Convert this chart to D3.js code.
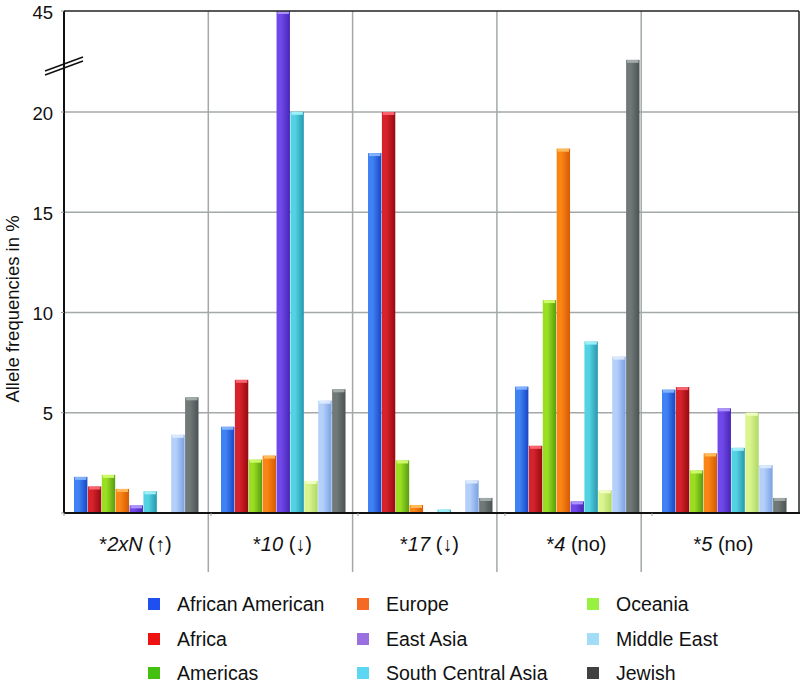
<!DOCTYPE html>
<html><head><meta charset="utf-8">
<script src="https://cdn.jsdelivr.net/npm/d3@7"></script>
<style>body{margin:0;background:#fff}svg{display:block;font-family:"Liberation Sans",Arial,sans-serif}</style>
</head><body><svg id="c" width="806" height="686"></svg>
<script>
const categories = ["2xN", "10", "17", "4", "5"];
const categorySuffix = ["(\u2191)", "(\u2193)", "(\u2193)", "(no)", "(no)"];
const series = ["African American", "Africa", "Americas", "Europe", "East Asia", "South Central Asia", "Oceania", "Middle East", "Jewish"];
const africanAmerican = [1.8, 4.3, 17.95, 6.3, 6.15];
const africa = [1.32, 6.64, 20.0, 3.35, 6.28];
const americas = [1.9, 2.66, 2.62, 10.62, 2.12];
const europe = [1.2, 2.86, 0.4, 18.17, 2.97];
const eastAsia = [0.38, 45, 0.05, 0.58, 5.22];
const southCentralAsia = [1.08, 20.05, 0.17, 8.55, 3.25];
const oceania = [0, 1.6, 0.05, 1.13, 5.0];
const middleEast = [3.9, 5.6, 1.62, 7.8, 2.38];
const jewish = [5.77, 6.17, 0.75, 32.9, 0.75];
const yTicks = [5, 10, 15, 20, 45];
const legendOrder = [["African American","Africa","Americas"],["Europe","East Asia","South Central Asia"],["Oceania","Middle East","Jewish"]];

const values = [africanAmerican, africa, americas, europe, eastAsia, southCentralAsia, oceania, middleEast, jewish];
const legendColors = ["#1f4ff0","#ee1111","#44c010","#f46a24","#9a70e0","#5cd6f2","#98f040","#a2dcf6","#414141"];
const barLight = ["#3f82f4","#d6222a","#9ade22","#fa8414","#7048ea","#52d2e2","#daf48e","#b4d0fa","#707878"];
const barDark  = ["#1a46c4","#960a10","#579c0e","#d45a04","#4626b4","#2898ae","#aed866","#7aa0e2","#4a5252"];
const barCap   = ["#8ab8ff","#ff6a78","#d4ff70","#ffc060","#b49cff","#a6f4fc","#f4ffc8","#e0ecff","#a8b0b0"];

const svg = d3.select("#c");
const L = 64, R = 799, T = 11, B = 513;
const y = d3.scaleLinear().domain([0, 20, 45]).range([B, 112, T]);
const x0 = d3.scaleBand().domain(categories).range([L, R]);
const x1 = d3.scaleBand().domain(series).range([10, 135]);
const gridX = d3.scaleLinear().domain([0, 5]).range([L, 785.5]);

const defs = svg.append("defs");
series.forEach((s, i) => {
  const g = defs.append("linearGradient").attr("id", "g" + i).attr("x1", "0").attr("x2", "1").attr("y1", "0").attr("y2", "0");
  g.append("stop").attr("offset", "0").attr("stop-color", barLight[i]);
  g.append("stop").attr("offset", "0.35").attr("stop-color", barLight[i]);
  g.append("stop").attr("offset", "1").attr("stop-color", barDark[i]);
});

// horizontal grid
svg.append("g").selectAll("line").data(yTicks.filter(t => t !== 45)).join("line")
  .attr("x1", L).attr("x2", R).attr("y1", d => y(d)).attr("y2", d => y(d))
  .attr("stroke", "#a3a8a8").attr("stroke-width", 1.5);
// vertical grid
svg.append("g").selectAll("line").data([1, 2, 3, 4]).join("line")
  .attr("x1", d => gridX(d)).attr("x2", d => gridX(d)).attr("y1", T).attr("y2", 572)
  .attr("stroke", "#a3a8a8").attr("stroke-width", 1.5);

// bars
const groups = svg.append("g").selectAll("g").data(categories).join("g")
  .attr("transform", c => `translate(${x0(c)},0)`);
groups.each(function(c, ci) {
  const g = d3.select(this);
  series.forEach((s, si) => {
    const v = values[si][ci];
    if (v <= 0) return;
    const yy = y(v), h = B - yy;
    g.append("rect").attr("x", x1(s)).attr("y", yy).attr("width", x1.bandwidth() - 0.5).attr("height", h)
      .attr("fill", `url(#g${si})`);
    const ch = Math.min(3, h);
    g.append("rect").attr("x", x1(s) + 1).attr("y", yy).attr("width", x1.bandwidth() - 2.5).attr("height", ch)
      .attr("fill", barCap[si]).attr("opacity", 0.9);
  });
});

// frame
svg.append("line").attr("x1", L).attr("x2", R).attr("y1", T).attr("y2", T).attr("stroke", "#222").attr("stroke-width", 1.5);
svg.append("line").attr("x1", R).attr("x2", R).attr("y1", T).attr("y2", B).attr("stroke", "#222").attr("stroke-width", 1.5);
svg.append("line").attr("x1", L).attr("x2", R + 1).attr("y1", B).attr("y2", B).attr("stroke", "#111").attr("stroke-width", 2);
svg.append("line").attr("x1", L).attr("x2", L).attr("y1", T).attr("y2", B).attr("stroke", "#111").attr("stroke-width", 2);

// band ticks on x axis
svg.append("g").selectAll("line").data(categories).join("line")
  .attr("x1", c => x0(c)).attr("x2", c => x0(c)).attr("y1", B).attr("y2", B + 3)
  .attr("stroke", "#999").attr("stroke-width", 1);

// y axis labels
const yg = svg.append("g");
yg.selectAll("line").data([0].concat(yTicks)).join("line")
  .attr("x1", L - 3).attr("x2", L).attr("y1", d => y(d)).attr("y2", d => y(d)).attr("stroke", "#999");
yg.selectAll("text").data(yTicks).join("text")
  .attr("x", 53).attr("y", d => y(d) + 1).attr("text-anchor", "end").attr("dominant-baseline", "central")
  .attr("font-size", 18.5).attr("fill", "#111").text(d => d);

// axis break
[0, 4].forEach(o => {
  svg.append("line").attr("x1", 45).attr("y1", 75 - o).attr("x2", 83).attr("y2", 61 - o)
    .attr("stroke", "#111").attr("stroke-width", 1.6);
});

// y label
svg.append("text").attr("transform", "translate(12,309) rotate(-90)").attr("text-anchor", "middle")
  .attr("dominant-baseline", "central").attr("font-size", 18.5).attr("fill", "#111").text("Allele frequencies in %");

// category labels
const cl = svg.append("g").selectAll("text").data(categories).join("text")
  .attr("x", c => x0(c) + x0.bandwidth() / 2 - 2).attr("y", 551).attr("text-anchor", "middle")
  .attr("font-size", 20).attr("fill", "#111");
cl.append("tspan").text("*");
cl.append("tspan").attr("font-style", "italic").text(c => c);
cl.append("tspan").text((c, i) => " " + categorySuffix[i]);

// legend
const colX = [148, 357, 587];
const rowY = [604, 639, 673];
legendOrder.forEach((col, ci) => {
  col.forEach((name, ri) => {
    const si = series.indexOf(name);
    svg.append("rect").attr("x", colX[ci]).attr("y", rowY[ri] - 6).attr("width", 12).attr("height", 12).attr("fill", legendColors[si]);
    svg.append("text").attr("x", colX[ci] + 29).attr("y", rowY[ri]).attr("dominant-baseline", "central")
      .attr("font-size", 19.5).attr("fill", "#111").text(name);
  });
});
</script></body></html>
